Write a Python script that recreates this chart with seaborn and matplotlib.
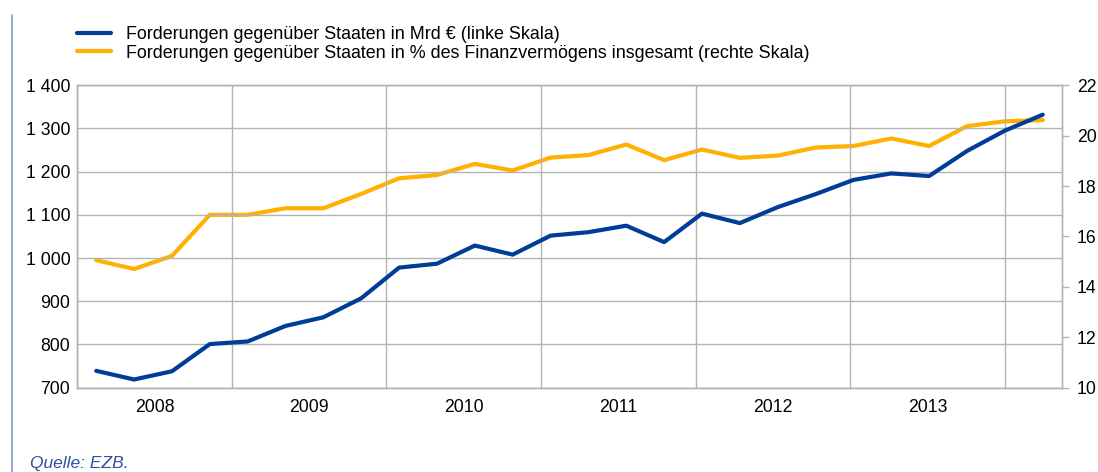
import numpy as np
import pandas as pd
import matplotlib
matplotlib.use("Agg")
import matplotlib.pyplot as plt
from matplotlib.lines import Line2D
import seaborn as sns

# quarterly observations, 26 points
years = ["2008", "2009", "2010", "2011", "2012", "2013"]
claims_bn = [739, 719, 738, 801, 807, 843, 863, 907, 978, 987, 1029, 1008,
             1052, 1060, 1075, 1037, 1103, 1081, 1118, 1148, 1181, 1196,
             1190, 1248, 1295, 1332]
claims_pct = [15.06, 14.71, 15.23, 16.86, 16.86, 17.12, 17.12, 17.69, 18.31,
              18.44, 18.88, 18.62, 19.13, 19.23, 19.65, 19.03, 19.45, 19.12,
              19.21, 19.53, 19.59, 19.89, 19.59, 20.38, 20.57, 20.62]
left_ticks = [700, 800, 900, 1000, 1100, 1200, 1300, 1400]
right_ticks = [10, 12, 14, 16, 18, 20, 22]
label_bn = "Forderungen gegenüber Staaten in Mrd € (linke Skala)"
label_pct = "Forderungen gegenüber Staaten in % des Finanzvermögens insgesamt (rechte Skala)"
source = "Quelle: EZB."

BLUE = "#003d96"
YELLOW = "#ffb000"
GRID = "#b3b3b3"
FS = 12.7

sns.set_style("white")
plt.rcParams["font.family"] = ["Liberation Sans", "DejaVu Sans"]
plt.rcParams["text.color"] = "black"

df = pd.DataFrame({"q": np.arange(len(claims_bn)), "bn": claims_bn, "pct": claims_pct})

fig = plt.figure(figsize=(10.98, 4.72), dpi=100)
ax = fig.add_axes([0.0704, 0.1786, 0.8965, 0.6407])
ax2 = ax.twinx()

sns.lineplot(data=df, x="q", y="bn", ax=ax, color=BLUE, linewidth=3, zorder=3)
sns.lineplot(data=df, x="q", y="pct", ax=ax2, color=YELLOW, linewidth=3, zorder=2)
ax.set_zorder(ax2.get_zorder() + 1)
ax.patch.set_visible(False)

ax.set_xlim(-0.5, len(claims_bn) - 0.5)
ax.set_ylim(700, 1400)
ax2.set_ylim(10, 22)

ax.set_yticks(left_ticks)
ax.set_yticklabels([f"{v:,}".replace(",", " ") for v in left_ticks], fontsize=FS)
ax2.set_yticks(right_ticks)
ax2.set_yticklabels([str(v) for v in right_ticks], fontsize=FS)

bounds = np.linspace(-0.5, 24, len(years) + 1)
ax.set_xticks(bounds)
ax.set_xticklabels([])
ax.set_xticks((bounds[:-1] + bounds[1:]) / 2, minor=True)
ax.set_xticklabels(years, minor=True, fontsize=FS)
ax.tick_params(axis="x", which="major", length=7, color=GRID, width=1)
ax.tick_params(axis="x", which="minor", length=0, pad=8, labelcolor="black")
ax.tick_params(axis="y", length=0, pad=5, labelcolor="black")
ax2.tick_params(axis="y", length=5, color=GRID, width=1, pad=6, labelcolor="black")

ax.grid(True, which="major", color=GRID, linewidth=1)
for a in (ax, ax2):
    for s in a.spines.values():
        s.set_color(GRID)
        s.set_linewidth(1)
ax.set_xlabel("")
ax.set_ylabel("")
ax2.set_ylabel("")

handles = [Line2D([], [], color=BLUE, linewidth=3), Line2D([], [], color=YELLOW, linewidth=3)]
leg = fig.legend(handles, [label_bn, label_pct], loc="upper left",
                 bbox_to_anchor=(0.0705, 0.945), frameon=False, fontsize=12.9,
                 handlelength=1.85, handletextpad=0.85, labelspacing=0.1,
                 borderaxespad=0, borderpad=0)
for t in leg.get_texts():
    t.set_color("black")

fig.text(0.0275, 0.019, source, fontsize=12.5, style="italic", color="#2f4f9f", va="center")
fig.add_artist(Line2D([0.0105, 0.0105], [0, 0.968], transform=fig.transFigure,
                      color="#7d9bd3", linewidth=1.2))

fig.savefig("out.png", dpi=100)
